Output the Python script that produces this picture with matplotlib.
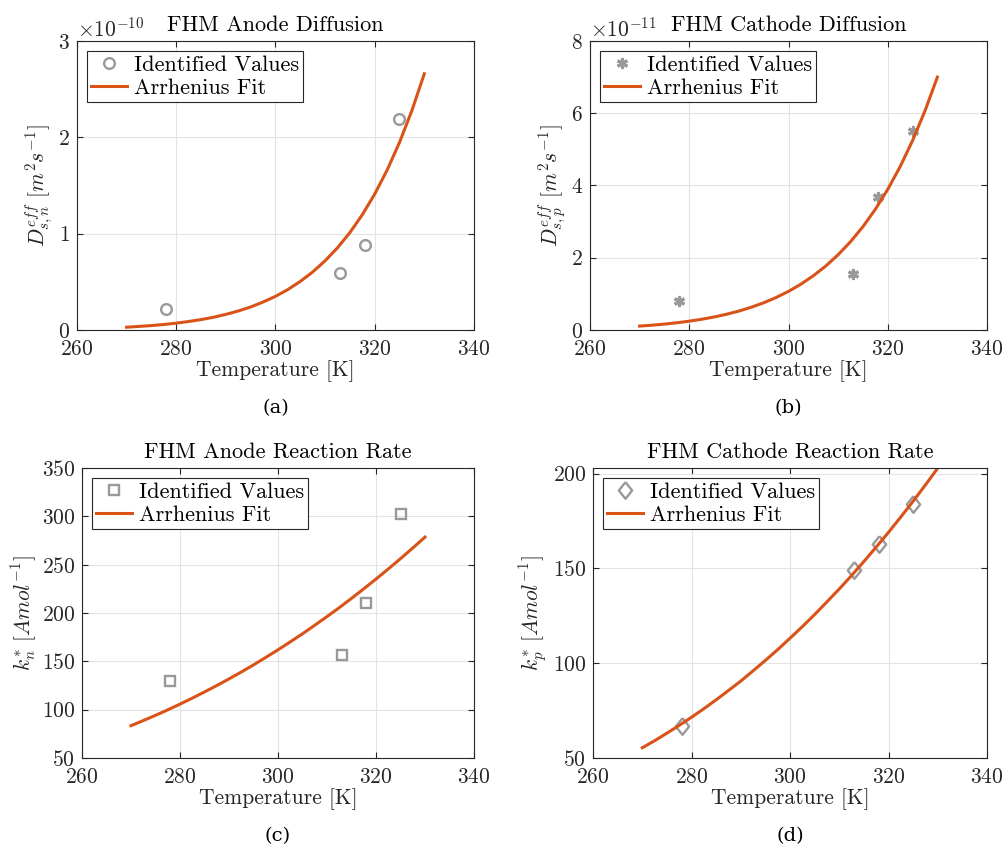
import matplotlib.pyplot as plt
from matplotlib.ticker import ScalarFormatter

plt.rcParams['font.family'] = 'cmr10'
plt.rcParams['mathtext.fontset'] = 'cm'
plt.rcParams['axes.formatter.use_mathtext'] = True

# identified parameter values at each test temperature
temp_pts = [278, 313, 318, 325]
d_anode = [0.22e-10, 0.59e-10, 0.88e-10, 2.19e-10]
d_cathode = [0.79e-11, 1.56e-11, 3.67e-11, 5.52e-11]
k_anode = [129.6, 156.8, 210.3, 302.0]
k_cathode = [66.9, 149.0, 162.9, 184.2]

# Arrhenius fit curves
temp_fit = [270, 272.5, 275, 277.5, 280, 282.5, 285, 287.5, 290, 292.5, 295, 297.5, 300,
            302.5, 305, 307.5, 310, 312.5, 315, 317.5, 320, 322.5, 325, 327.5, 330]
d_anode_fit = [0.029, 0.037, 0.046, 0.057, 0.071, 0.088, 0.108, 0.132, 0.162, 0.197, 0.239,
               0.290, 0.349, 0.420, 0.504, 0.602, 0.718, 0.853, 1.011, 1.196, 1.411, 1.659,
               1.947, 2.278, 2.66]
d_cathode_fit = [0.108, 0.133, 0.163, 0.200, 0.244, 0.297, 0.360, 0.435, 0.524, 0.630, 0.753,
                 0.899, 1.069, 1.269, 1.501, 1.770, 2.083, 2.444, 2.860, 3.341, 3.892, 4.522,
                 5.243, 6.064, 7.0]
k_anode_fit = [83.4, 88.7, 94.1, 99.8, 105.7, 111.9, 118.3, 124.9, 131.8, 138.9, 146.3, 154.0,
               161.9, 170.1, 178.5, 187.3, 196.3, 205.5, 215.1, 225.0, 235.1, 245.5, 256.2,
               267.2, 278.5]
k_cathode_fit = [55.4, 59.1, 63.1, 67.2, 71.5, 76.0, 80.7, 85.6, 90.6, 96.0, 101.5, 107.2,
                 113.2, 119.3, 125.7, 132.4, 139.2, 146.3, 153.7, 161.3, 169.1, 177.2, 185.5,
                 194.1, 203.0]

d_anode_fit = [v * 1e-10 for v in d_anode_fit]
d_cathode_fit = [v * 1e-11 for v in d_cathode_fit]

orange = '#D95319'
grey = '#999999'
dark = '#262626'
diamond = [(0, 1), (0.8, 0), (0, -1), (-0.8, 0), (0, 1)]

fig = plt.figure(figsize=(10.06, 8.47), dpi=100)
positions = [
    [0.0765, 0.6104, 0.3946, 0.3412],
    [0.5865, 0.6104, 0.3946, 0.3412],
    [0.0815, 0.1051, 0.3897, 0.3424],
    [0.5895, 0.1051, 0.3917, 0.3424],
]
panels = [
    ('FHM Anode Diffusion', d_anode, d_anode_fit, 'o', 7.7,
     r'$D_{s,n}^{eff}\ [m^2s^{-1}]$', (0, 3e-10), [0, 1e-10, 2e-10, 3e-10], '(a)'),
    ('FHM Cathode Diffusion', d_cathode, d_cathode_fit, (6, 2, 0), 8,
     r'$D_{s,p}^{eff}\ [m^2s^{-1}]$', (0, 8e-11), [0, 2e-11, 4e-11, 6e-11, 8e-11], '(b)'),
    ('FHM Anode Reaction Rate', k_anode, k_anode_fit, 's', 6.5,
     r'$k_n^{*}\ [Amol^{-1}]$', (50, 350), [50, 100, 150, 200, 250, 300, 350], '(c)'),
    ('FHM Cathode Reaction Rate', k_cathode, k_cathode_fit, diamond, 12,
     r'$k_p^{*}\ [Amol^{-1}]$', (50, 203), [50, 100, 150, 200], '(d)'),
]

for pos, (title, pts, fit, mk, ms, ylab, ylim, yt, tag) in zip(positions, panels):
    ax = fig.add_axes(pos)
    if mk == (6, 2, 0):
        ax.plot(temp_pts, pts, linestyle='none', marker=mk, markersize=ms,
                color=grey, markeredgewidth=2.2, label='Identified Values')
    else:
        ax.plot(temp_pts, pts, linestyle='none', marker=mk, markersize=ms,
                markerfacecolor='none', markeredgecolor=grey, markeredgewidth=1.7,
                label='Identified Values')
    ax.plot(temp_fit, fit, color=orange, linewidth=2.2, label='Arrhenius Fit')

    ax.set_xlim(260, 340)
    ax.set_xticks([260, 280, 300, 320, 340])
    ax.set_ylim(*ylim)
    ax.set_yticks(yt)
    ax.yaxis.set_major_formatter(ScalarFormatter(useMathText=True))
    ax.yaxis.get_offset_text().set_fontsize(15.5)
    ax.yaxis.get_offset_text().set_color(dark)

    ax.grid(True, color='#e3e3e3', linewidth=0.8)
    ax.set_axisbelow(True)
    ax.tick_params(direction='in', top=True, right=True, length=4, width=0.8,
                   labelsize=15.5, colors=dark)
    ax.tick_params(axis='x', pad=7)
    ax.tick_params(axis='y', pad=5)
    for s in ax.spines.values():
        s.set_color(dark)
        s.set_linewidth(0.8)

    ax.set_title(title, fontsize=16, color='black', pad=7)
    ax.set_xlabel('Temperature [K]', fontsize=15.5, color=dark, labelpad=1)
    ax.set_ylabel(ylab, fontsize=15.5, color=dark, labelpad=2)

    leg = ax.legend(loc='upper left', fontsize=16, fancybox=False, framealpha=1,
                    edgecolor=dark, handlelength=1.6, handletextpad=0.3,
                    borderpad=0.2, labelspacing=0.15, borderaxespad=0.45)
    leg.get_frame().set_linewidth(0.8)

    ax.text(0.5, -0.27, tag, transform=ax.transAxes, ha='center', va='center',
            fontsize=14, family='DejaVu Serif')

fig.savefig('out.png', dpi=100)
